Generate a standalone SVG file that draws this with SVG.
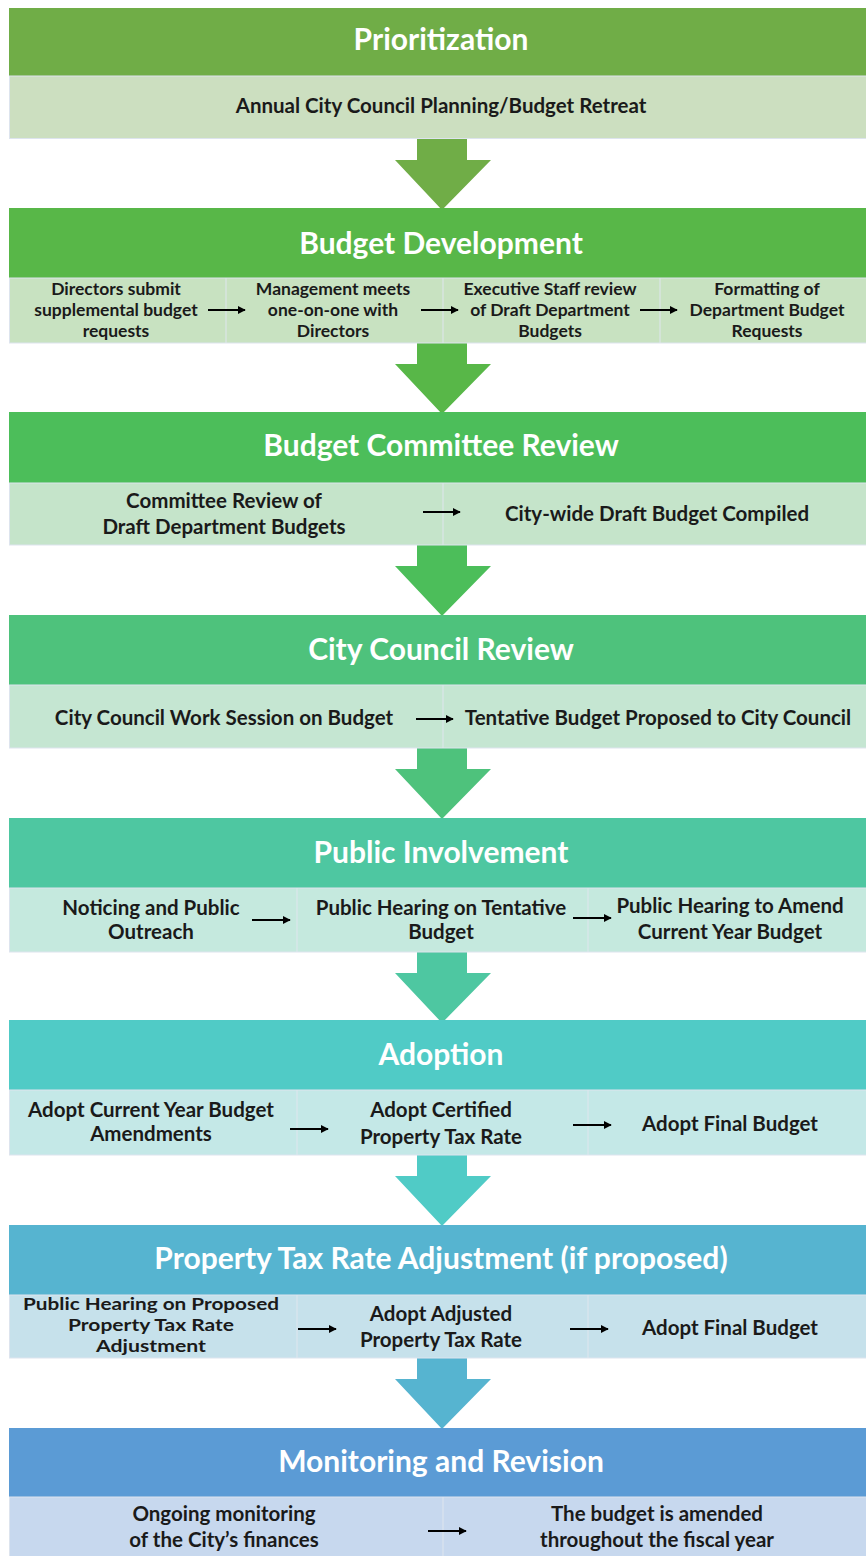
<svg xmlns="http://www.w3.org/2000/svg" width="866" height="1556" viewBox="0 0 866 1556">
<style>
.hd{font-family:Lato,"Open Sans","Liberation Sans",sans-serif;font-weight:bold;font-size:30px;fill:#ffffff;text-anchor:middle}
.tx{font-family:Lato,"Open Sans","Liberation Sans",sans-serif;font-weight:bold;font-size:20.5px;fill:#1a1a1a;text-anchor:middle}
.sm{font-size:17.5px}
.body{stroke:#dde4ee;stroke-width:1}
.div{stroke:#dfe6ee;stroke-width:1}
.con{stroke:#000;stroke-width:2;fill:none;marker-end:url(#ah)}
</style>
<defs>
<marker id="ah" viewBox="0 0 10 10" refX="9" refY="5" markerWidth="4" markerHeight="4" orient="auto" markerUnits="strokeWidth">
<path d="M0,0 L10,5 L0,10 z" fill="#000"/>
</marker>
<path id="bigArrow" d="M417,0 L467,0 L467,21 L491,21 L442,71 L395,21 L417,21 z"/>
</defs>
<rect width="866" height="1556" fill="#ffffff"/>

<g id="arrows">
<use href="#bigArrow" y="139" fill="#70AD47"/>
<use href="#bigArrow" y="343" fill="#58B748"/>
<use href="#bigArrow" y="545" fill="#4CBE5A"/>
<use href="#bigArrow" y="748" fill="#4EC27C"/>
<use href="#bigArrow" y="952" fill="#4EC7A1"/>
<use href="#bigArrow" y="1155" fill="#50CBC6"/>
<use href="#bigArrow" y="1358" fill="#56B4D0"/>
</g>

<g id="prioritization">
<rect x="9" y="8" width="857" height="68" fill="#70AD47"/>
<text class="hd" x="441" y="50">Prioritization</text>
<rect class="body" x="9.5" y="76" width="857" height="62.5" fill="#CCDFC0"/>
<text class="tx" x="441" y="113">Annual City Council Planning/Budget Retreat</text>
</g>

<g id="budget-development">
<rect x="9" y="208" width="857" height="70" fill="#58B748"/>
<text class="hd" x="441" y="254">Budget Development</text>
<rect class="body" x="9.5" y="278" width="857" height="65" fill="#C8E2C1"/>
<line class="div" x1="226" y1="278" x2="226" y2="343"/>
<line class="div" x1="443" y1="278" x2="443" y2="343"/>
<line class="div" x1="660" y1="278" x2="660" y2="343"/>
<text class="tx sm" x="116" y="295">Directors submit</text>
<text class="tx sm" x="116" y="316">supplemental budget</text>
<text class="tx sm" x="116" y="337">requests</text>
<text class="tx sm" x="333" y="295">Management meets</text>
<text class="tx sm" x="333" y="316">one-on-one with</text>
<text class="tx sm" x="333" y="337">Directors</text>
<text class="tx sm" x="550" y="295">Executive Staff review</text>
<text class="tx sm" x="550" y="316">of Draft Department</text>
<text class="tx sm" x="550" y="337">Budgets</text>
<text class="tx sm" x="767" y="295">Formatting of</text>
<text class="tx sm" x="767" y="316">Department Budget</text>
<text class="tx sm" x="767" y="337">Requests</text>
</g>

<g id="budget-committee-review">
<rect x="9" y="412" width="857" height="71" fill="#4CBE5A"/>
<text class="hd" x="441" y="456">Budget Committee Review</text>
<rect class="body" x="9.5" y="483" width="857" height="62" fill="#C5E4CA"/>
<line class="div" x1="443" y1="483" x2="443" y2="545"/>
<text class="tx" x="224" y="508">Committee Review of</text>
<text class="tx" x="224" y="534">Draft Department Budgets</text>
<text class="tx" x="657" y="521">City-wide Draft Budget Compiled</text>
</g>

<g id="city-council-review">
<rect x="9" y="615" width="857" height="70" fill="#4EC27C"/>
<text class="hd" x="441" y="660">City Council Review</text>
<rect class="body" x="9.5" y="685" width="857" height="63" fill="#C5E6D2"/>
<line class="div" x1="443" y1="685" x2="443" y2="748"/>
<text class="tx" x="224" y="725">City Council Work Session on Budget</text>
<text class="tx" x="658" y="725">Tentative Budget Proposed to City Council</text>
</g>

<g id="public-involvement">
<rect x="9" y="818" width="857" height="70" fill="#4EC7A1"/>
<text class="hd" x="441" y="863">Public Involvement</text>
<rect class="body" x="9.5" y="888" width="857" height="64" fill="#C5E9DE"/>
<line class="div" x1="297" y1="888" x2="297" y2="952"/>
<line class="div" x1="588" y1="888" x2="588" y2="952"/>
<text class="tx" x="151" y="915">Noticing and Public</text>
<text class="tx" x="151" y="939">Outreach</text>
<text class="tx" x="441" y="915">Public Hearing on Tentative</text>
<text class="tx" x="441" y="939">Budget</text>
<text class="tx" x="730" y="913">Public Hearing to Amend</text>
<text class="tx" x="730" y="939">Current Year Budget</text>
</g>

<g id="adoption">
<rect x="9" y="1020" width="857" height="70" fill="#50CBC6"/>
<text class="hd" x="441" y="1065">Adoption</text>
<rect class="body" x="9.5" y="1090" width="857" height="65" fill="#C4E8E7"/>
<line class="div" x1="297" y1="1090" x2="297" y2="1155"/>
<line class="div" x1="588" y1="1090" x2="588" y2="1155"/>
<text class="tx" x="151" y="1117">Adopt Current Year Budget</text>
<text class="tx" x="151" y="1141">Amendments</text>
<text class="tx" x="441" y="1117">Adopt Certified</text>
<text class="tx" x="441" y="1144">Property Tax Rate</text>
<text class="tx" x="730" y="1131">Adopt Final Budget</text>
</g>

<g id="property-tax-rate-adjustment">
<rect x="9" y="1225" width="857" height="70" fill="#56B4D0"/>
<text class="hd" x="441" y="1269">Property Tax Rate Adjustment (if proposed)</text>
<rect class="body" x="9.5" y="1295" width="857" height="63" fill="#C6E1EB"/>
<line class="div" x1="297" y1="1295" x2="297" y2="1358"/>
<line class="div" x1="588" y1="1295" x2="588" y2="1358"/>
<text class="tx sm" x="151" y="1310" textLength="256" lengthAdjust="spacingAndGlyphs">Public Hearing on Proposed</text>
<text class="tx sm" x="151" y="1331" textLength="166" lengthAdjust="spacingAndGlyphs">Property Tax Rate</text>
<text class="tx sm" x="151" y="1352" textLength="110" lengthAdjust="spacingAndGlyphs">Adjustment</text>
<text class="tx" x="441" y="1321">Adopt Adjusted</text>
<text class="tx" x="441" y="1347">Property Tax Rate</text>
<text class="tx" x="730" y="1335">Adopt Final Budget</text>
</g>

<g id="monitoring-and-revision">
<rect x="9" y="1428" width="857" height="69" fill="#5B9BD5"/>
<text class="hd" x="441" y="1472">Monitoring and Revision</text>
<rect class="body" x="9.5" y="1497" width="857" height="60" fill="#C7D8EE"/>
<line class="div" x1="443" y1="1497" x2="443" y2="1556"/>
<text class="tx" x="224" y="1521">Ongoing monitoring</text>
<text class="tx" x="224" y="1547">of the City’s finances</text>
<text class="tx" x="657" y="1521">The budget is amended</text>
<text class="tx" x="657" y="1547">throughout the fiscal year</text>
</g>

<g id="connectors">
<line class="con" x1="208" y1="310" x2="245" y2="310"/>
<line class="con" x1="421" y1="310" x2="458" y2="310"/>
<line class="con" x1="640" y1="310" x2="677" y2="310"/>
<line class="con" x1="423" y1="512" x2="460" y2="512"/>
<line class="con" x1="416" y1="719" x2="453" y2="719"/>
<line class="con" x1="252" y1="920" x2="290" y2="920"/>
<line class="con" x1="573" y1="918" x2="611" y2="918"/>
<line class="con" x1="290" y1="1129" x2="328" y2="1129"/>
<line class="con" x1="573" y1="1125" x2="611" y2="1125"/>
<line class="con" x1="298" y1="1329" x2="336" y2="1329"/>
<line class="con" x1="570" y1="1329" x2="608" y2="1329"/>
<line class="con" x1="428" y1="1531" x2="466" y2="1531"/>
</g>
</svg>
